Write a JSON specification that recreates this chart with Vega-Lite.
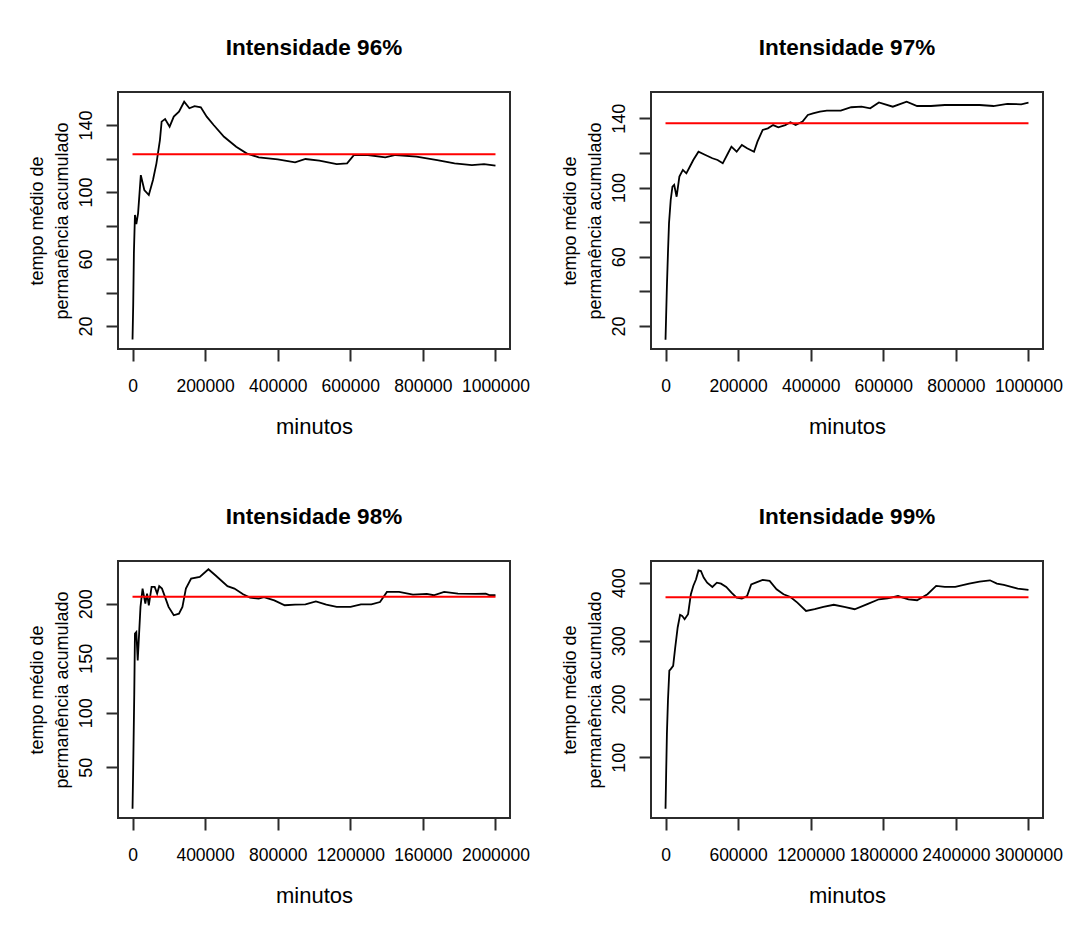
{
  "$schema": "https://vega.github.io/schema/vega-lite/v6.json",
  "background": "white",
  "padding": {"left": 27, "top": 35, "right": 5, "bottom": 5},
  "datasets": {
    "s96": [
      {"minutos": 0, "tempo": 12}, {"minutos": 1900, "tempo": 32.5}, {"minutos": 3800, "tempo": 63.4},
      {"minutos": 6700, "tempo": 86.3}, {"minutos": 10500, "tempo": 80.9}, {"minutos": 15300, "tempo": 87.3},
      {"minutos": 22900, "tempo": 110.1}, {"minutos": 32500, "tempo": 101.2}, {"minutos": 44900, "tempo": 98.2},
      {"minutos": 56400, "tempo": 107.2}, {"minutos": 65900, "tempo": 117.1}, {"minutos": 75500, "tempo": 131},
      {"minutos": 80200, "tempo": 142}, {"minutos": 89800, "tempo": 143.6}, {"minutos": 102200, "tempo": 139},
      {"minutos": 113700, "tempo": 145}, {"minutos": 128000, "tempo": 148}, {"minutos": 142300, "tempo": 153.9},
      {"minutos": 156600, "tempo": 150}, {"minutos": 171000, "tempo": 151.3}, {"minutos": 188200, "tempo": 150.6},
      {"minutos": 204400, "tempo": 145}, {"minutos": 223500, "tempo": 140}, {"minutos": 252100, "tempo": 133},
      {"minutos": 285600, "tempo": 127}, {"minutos": 314200, "tempo": 123.1}, {"minutos": 347700, "tempo": 120.7},
      {"minutos": 400200, "tempo": 119.5}, {"minutos": 447900, "tempo": 117.7}, {"minutos": 476600, "tempo": 119.7},
      {"minutos": 514800, "tempo": 118.7}, {"minutos": 562600, "tempo": 116.7}, {"minutos": 591200, "tempo": 117.1},
      {"minutos": 610300, "tempo": 122.1}, {"minutos": 648500, "tempo": 122.1}, {"minutos": 696300, "tempo": 120.7},
      {"minutos": 724900, "tempo": 122.1}, {"minutos": 782200, "tempo": 121.1}, {"minutos": 839500, "tempo": 119.1},
      {"minutos": 887300, "tempo": 117.1}, {"minutos": 935000, "tempo": 116.1}, {"minutos": 968500, "tempo": 116.7},
      {"minutos": 1000000, "tempo": 115.7}
    ],
    "s97": [
      {"minutos": 0, "tempo": 12}, {"minutos": 3800, "tempo": 42.8}, {"minutos": 6700, "tempo": 62},
      {"minutos": 9600, "tempo": 79.3}, {"minutos": 14300, "tempo": 92.8}, {"minutos": 19100, "tempo": 100.5},
      {"minutos": 23900, "tempo": 101.5}, {"minutos": 30600, "tempo": 94.7}, {"minutos": 38200, "tempo": 106.3},
      {"minutos": 47800, "tempo": 110.2}, {"minutos": 57400, "tempo": 108.2}, {"minutos": 66900, "tempo": 112},
      {"minutos": 76500, "tempo": 115.9}, {"minutos": 90800, "tempo": 120.7}, {"minutos": 109900, "tempo": 118.8},
      {"minutos": 129100, "tempo": 116.9}, {"minutos": 143400, "tempo": 115.9}, {"minutos": 157700, "tempo": 114},
      {"minutos": 172100, "tempo": 119.8}, {"minutos": 181600, "tempo": 123.6}, {"minutos": 196000, "tempo": 120.7},
      {"minutos": 210300, "tempo": 124.6}, {"minutos": 224700, "tempo": 122.7}, {"minutos": 243800, "tempo": 120.7},
      {"minutos": 253300, "tempo": 126.5}, {"minutos": 267700, "tempo": 133.3}, {"minutos": 282000, "tempo": 134.2},
      {"minutos": 296400, "tempo": 136.1}, {"minutos": 310700, "tempo": 134.8}, {"minutos": 329800, "tempo": 136.1},
      {"minutos": 344200, "tempo": 137.7}, {"minutos": 358500, "tempo": 136.1}, {"minutos": 377600, "tempo": 138.1},
      {"minutos": 392000, "tempo": 141.9}, {"minutos": 406300, "tempo": 142.9}, {"minutos": 425400, "tempo": 143.9},
      {"minutos": 444500, "tempo": 144.4}, {"minutos": 482800, "tempo": 144.4}, {"minutos": 511500, "tempo": 146.4},
      {"minutos": 540100, "tempo": 146.7}, {"minutos": 564000, "tempo": 145.8}, {"minutos": 587900, "tempo": 149.2},
      {"minutos": 626200, "tempo": 146.7}, {"minutos": 664400, "tempo": 149.6}, {"minutos": 693100, "tempo": 147.1},
      {"minutos": 731300, "tempo": 147.1}, {"minutos": 769600, "tempo": 147.7}, {"minutos": 817400, "tempo": 147.7},
      {"minutos": 865200, "tempo": 147.7}, {"minutos": 903400, "tempo": 147.1}, {"minutos": 941700, "tempo": 148.3},
      {"minutos": 979900, "tempo": 148.1}, {"minutos": 1000000, "tempo": 149}
    ],
    "s98": [
      {"minutos": 0, "tempo": 11.8}, {"minutos": 3800, "tempo": 50}, {"minutos": 9600, "tempo": 117},
      {"minutos": 13400, "tempo": 172.5}, {"minutos": 21000, "tempo": 174}, {"minutos": 28700, "tempo": 148},
      {"minutos": 36300, "tempo": 172.5}, {"minutos": 43900, "tempo": 197}, {"minutos": 55400, "tempo": 213.8},
      {"minutos": 70700, "tempo": 200}, {"minutos": 80200, "tempo": 209.2}, {"minutos": 89800, "tempo": 198.5},
      {"minutos": 105100, "tempo": 215.3}, {"minutos": 122200, "tempo": 215.3}, {"minutos": 135600, "tempo": 209.2},
      {"minutos": 147100, "tempo": 216}, {"minutos": 162400, "tempo": 213.8}, {"minutos": 179500, "tempo": 206},
      {"minutos": 198600, "tempo": 197}, {"minutos": 227300, "tempo": 189.3}, {"minutos": 255900, "tempo": 190.8},
      {"minutos": 275000, "tempo": 197}, {"minutos": 294100, "tempo": 213.8}, {"minutos": 322800, "tempo": 223},
      {"minutos": 370500, "tempo": 224.5}, {"minutos": 418300, "tempo": 231.5}, {"minutos": 456500, "tempo": 226},
      {"minutos": 523300, "tempo": 216}, {"minutos": 561500, "tempo": 213.8}, {"minutos": 609300, "tempo": 208.6},
      {"minutos": 647500, "tempo": 205.5}, {"minutos": 695200, "tempo": 204.6}, {"minutos": 723900, "tempo": 206},
      {"minutos": 781200, "tempo": 203}, {"minutos": 838500, "tempo": 198.5}, {"minutos": 895800, "tempo": 199},
      {"minutos": 953100, "tempo": 199.4}, {"minutos": 1010400, "tempo": 202}, {"minutos": 1067700, "tempo": 199},
      {"minutos": 1125000, "tempo": 197}, {"minutos": 1201400, "tempo": 197}, {"minutos": 1258700, "tempo": 199.4},
      {"minutos": 1316000, "tempo": 199.4}, {"minutos": 1363700, "tempo": 201.5}, {"minutos": 1401900, "tempo": 210.7},
      {"minutos": 1468800, "tempo": 210.7}, {"minutos": 1545200, "tempo": 208.3}, {"minutos": 1621600, "tempo": 208.9},
      {"minutos": 1659800, "tempo": 207.7}, {"minutos": 1717100, "tempo": 210.7}, {"minutos": 1793500, "tempo": 209.2},
      {"minutos": 1889000, "tempo": 208.9}, {"minutos": 1946300, "tempo": 209.2}, {"minutos": 1969200, "tempo": 207.7},
      {"minutos": 2000000, "tempo": 207.7}
    ],
    "s99": [
      {"minutos": 0, "tempo": 11.4}, {"minutos": 5700, "tempo": 77}, {"minutos": 11500, "tempo": 140},
      {"minutos": 20100, "tempo": 197}, {"minutos": 31500, "tempo": 248.6}, {"minutos": 43000, "tempo": 251.4},
      {"minutos": 63100, "tempo": 257}, {"minutos": 80300, "tempo": 288.6}, {"minutos": 100400, "tempo": 322.9},
      {"minutos": 120500, "tempo": 344.6}, {"minutos": 137700, "tempo": 342.9}, {"minutos": 157700, "tempo": 337},
      {"minutos": 186400, "tempo": 345.7}, {"minutos": 209400, "tempo": 380}, {"minutos": 229400, "tempo": 394.3},
      {"minutos": 252400, "tempo": 405.7}, {"minutos": 272500, "tempo": 421}, {"minutos": 292500, "tempo": 420},
      {"minutos": 315500, "tempo": 408.6}, {"minutos": 344200, "tempo": 400}, {"minutos": 387200, "tempo": 392.6},
      {"minutos": 424500, "tempo": 400}, {"minutos": 458900, "tempo": 398.3}, {"minutos": 501900, "tempo": 392.6},
      {"minutos": 544900, "tempo": 382.9}, {"minutos": 587900, "tempo": 374.3}, {"minutos": 631000, "tempo": 372.6},
      {"minutos": 674000, "tempo": 377}, {"minutos": 708400, "tempo": 397}, {"minutos": 745700, "tempo": 400},
      {"minutos": 803000, "tempo": 404.6}, {"minutos": 860400, "tempo": 402.9}, {"minutos": 917800, "tempo": 388.6},
      {"minutos": 975100, "tempo": 380}, {"minutos": 1032500, "tempo": 375.4}, {"minutos": 1089800, "tempo": 365.7},
      {"minutos": 1161500, "tempo": 351.4}, {"minutos": 1233200, "tempo": 354.3}, {"minutos": 1304900, "tempo": 358.3},
      {"minutos": 1391000, "tempo": 362}, {"minutos": 1477000, "tempo": 358.3}, {"minutos": 1563100, "tempo": 354.3},
      {"minutos": 1677800, "tempo": 364}, {"minutos": 1763800, "tempo": 371.4}, {"minutos": 1835500, "tempo": 373},
      {"minutos": 1921600, "tempo": 377}, {"minutos": 2007600, "tempo": 371.4}, {"minutos": 2079300, "tempo": 369.7},
      {"minutos": 2165300, "tempo": 380}, {"minutos": 2237000, "tempo": 394.3}, {"minutos": 2308700, "tempo": 392.6},
      {"minutos": 2394800, "tempo": 392.6}, {"minutos": 2509500, "tempo": 398.3}, {"minutos": 2595500, "tempo": 401.7},
      {"minutos": 2681600, "tempo": 404}, {"minutos": 2738900, "tempo": 398.3}, {"minutos": 2796300, "tempo": 396},
      {"minutos": 2911000, "tempo": 389.7}, {"minutos": 3000000, "tempo": 387.5}
    ],
    "m96": [{"inicio": 0, "fim": 1000000, "media": 122.5}],
    "m97": [{"inicio": 0, "fim": 1000000, "media": 137.2}],
    "m98": [{"inicio": 0, "fim": 2000000, "media": 206.4}],
    "m99": [{"inicio": 0, "fim": 3000000, "media": 375}]
  },
  "columns": 2,
  "spacing": {"row": 212, "column": 141},
  "bounds": "flush",
  "concat": [
    {
      "title": "Intensidade 96%",
      "width": 392, "height": 257,
      "layer": [
        {
          "data": {"name": "s96"},
          "mark": {"type": "line", "color": "black", "strokeWidth": 1.8},
          "encoding": {
            "x": {"field": "minutos", "type": "quantitative", "title": "minutos",
                  "scale": {"domain": [-40000, 1040000], "nice": false, "zero": false},
                  "axis": {"values": [0, 200000, 400000, 600000, 800000, 1000000]}},
            "y": {"field": "tempo", "type": "quantitative",
                  "title": ["tempo médio de", "permanência acumulado"],
                  "scale": {"domain": [6.3, 159.7], "nice": false, "zero": false},
                  "axis": {"values": [20, 40, 60, 80, 100, 120, 140],
                           "labelExpr": "datum.value % 40 == 20 ? datum.label : ''"}}
          }
        },
        {
          "data": {"name": "m96"},
          "mark": {"type": "rule", "color": "#ff0000", "strokeWidth": 2},
          "encoding": {
            "x": {"field": "inicio", "type": "quantitative"},
            "x2": {"field": "fim"},
            "y": {"field": "media", "type": "quantitative"}
          }
        }
      ]
    },
    {
      "title": "Intensidade 97%",
      "width": 392, "height": 257,
      "layer": [
        {
          "data": {"name": "s97"},
          "mark": {"type": "line", "color": "black", "strokeWidth": 1.8},
          "encoding": {
            "x": {"field": "minutos", "type": "quantitative", "title": "minutos",
                  "scale": {"domain": [-40000, 1040000], "nice": false, "zero": false},
                  "axis": {"values": [0, 200000, 400000, 600000, 800000, 1000000]}},
            "y": {"field": "tempo", "type": "quantitative",
                  "title": ["tempo médio de", "permanência acumulado"],
                  "scale": {"domain": [6.7, 155.2], "nice": false, "zero": false},
                  "axis": {"values": [20, 40, 60, 80, 100, 120, 140],
                           "labelExpr": "datum.value % 40 == 20 ? datum.label : ''"}}
          }
        },
        {
          "data": {"name": "m97"},
          "mark": {"type": "rule", "color": "#ff0000", "strokeWidth": 2},
          "encoding": {
            "x": {"field": "inicio", "type": "quantitative"},
            "x2": {"field": "fim"},
            "y": {"field": "media", "type": "quantitative"}
          }
        }
      ]
    },
    {
      "title": "Intensidade 98%",
      "width": 392, "height": 257,
      "layer": [
        {
          "data": {"name": "s98"},
          "mark": {"type": "line", "color": "black", "strokeWidth": 1.8},
          "encoding": {
            "x": {"field": "minutos", "type": "quantitative", "title": "minutos",
                  "scale": {"domain": [-80000, 2080000], "nice": false, "zero": false},
                  "axis": {"values": [0, 400000, 800000, 1200000, 1600000, 2000000],
                           "labelExpr": "datum.value == 1600000 ? '160000' : datum.label"}},
            "y": {"field": "tempo", "type": "quantitative",
                  "title": ["tempo médio de", "permanência acumulado"],
                  "scale": {"domain": [3.4, 239.1], "nice": false, "zero": false},
                  "axis": {"values": [50, 100, 150, 200]}}
          }
        },
        {
          "data": {"name": "m98"},
          "mark": {"type": "rule", "color": "#ff0000", "strokeWidth": 2},
          "encoding": {
            "x": {"field": "inicio", "type": "quantitative"},
            "x2": {"field": "fim"},
            "y": {"field": "media", "type": "quantitative"}
          }
        }
      ]
    },
    {
      "title": "Intensidade 99%",
      "width": 392, "height": 257,
      "layer": [
        {
          "data": {"name": "s99"},
          "mark": {"type": "line", "color": "black", "strokeWidth": 1.8},
          "encoding": {
            "x": {"field": "minutos", "type": "quantitative", "title": "minutos",
                  "scale": {"domain": [-120000, 3120000], "nice": false, "zero": false},
                  "axis": {"values": [0, 600000, 1200000, 1800000, 2400000, 3000000]}},
            "y": {"field": "tempo", "type": "quantitative",
                  "title": ["tempo médio de", "permanência acumulado"],
                  "scale": {"domain": [-4.6, 437.2], "nice": false, "zero": false},
                  "axis": {"values": [100, 200, 300, 400]}}
          }
        },
        {
          "data": {"name": "m99"},
          "mark": {"type": "rule", "color": "#ff0000", "strokeWidth": 2},
          "encoding": {
            "x": {"field": "inicio", "type": "quantitative"},
            "x2": {"field": "fim"},
            "y": {"field": "media", "type": "quantitative"}
          }
        }
      ]
    }
  ],
  "config": {
    "font": "Liberation Sans",
    "view": {"stroke": "#2b2b2b", "strokeWidth": 2},
    "title": {"fontSize": 22.5, "fontWeight": "bold", "color": "black", "baseline": "alphabetic",
              "offset": 33, "anchor": "middle", "frame": "group"},
    "axisX": {"domain": false, "grid": false, "tickSize": 12, "tickWidth": 2, "tickColor": "#2b2b2b",
              "labelFontSize": 17.5, "labelColor": "black", "labelPadding": 16, "labelOverlap": false,
              "labelFlush": false, "labelBound": false, "format": "d",
              "titleFontSize": 22, "titleFontWeight": "normal", "titleColor": "black", "titlePadding": 22},
    "axisY": {"domain": false, "grid": false, "tickSize": 12, "tickWidth": 2, "tickColor": "#2b2b2b",
              "labelFontSize": 18, "labelColor": "black", "labelPadding": 20, "labelOverlap": false,
              "labelAngle": -90, "labelAlign": "center", "labelBaseline": "middle", "format": "d",
              "titleFontSize": 18, "titleFontWeight": "normal", "titleColor": "black", "titlePadding": 6,
              "titleLineHeight": 25}
  }
}
